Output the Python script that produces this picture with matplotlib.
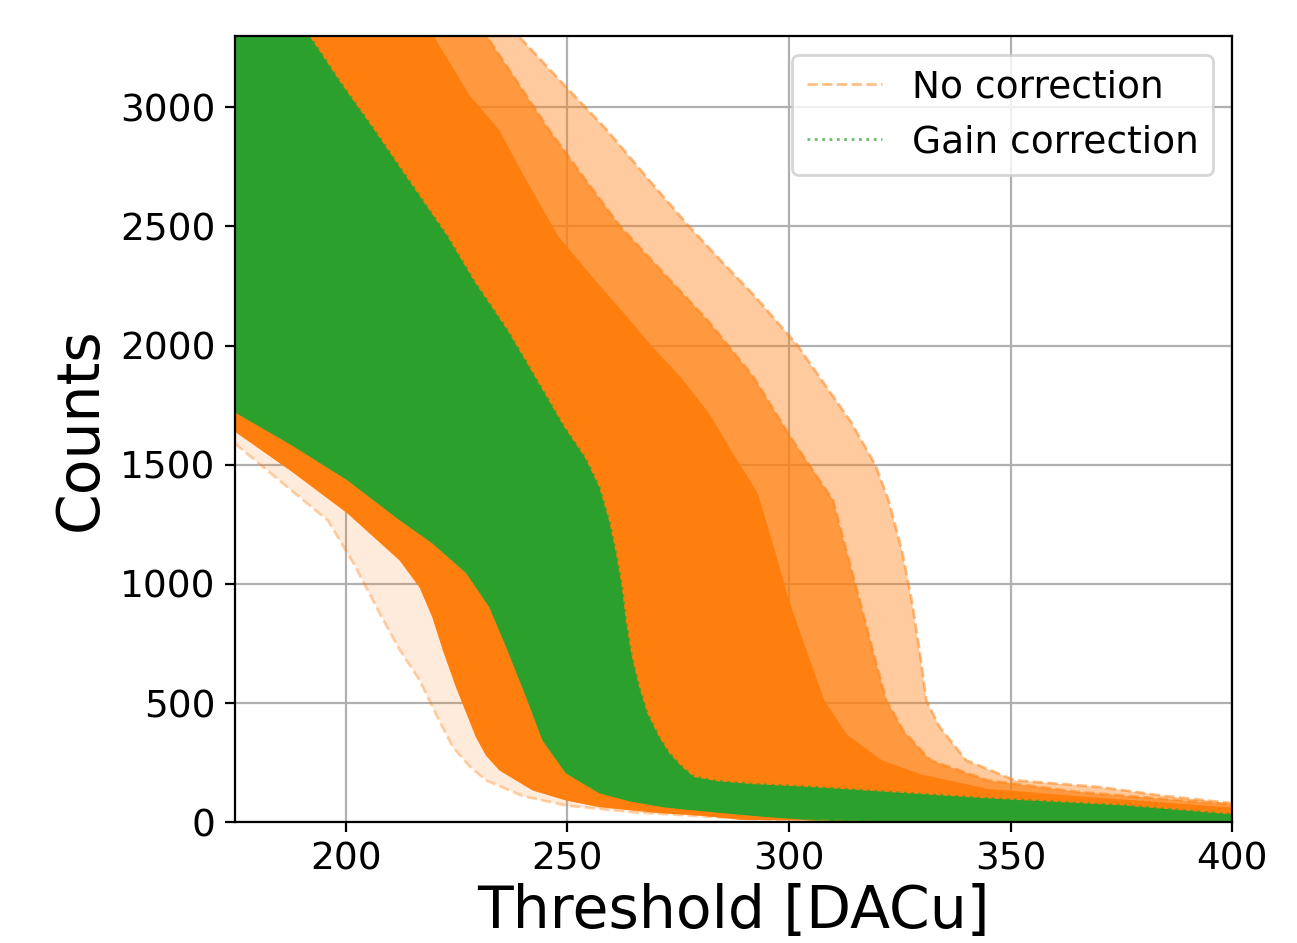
import numpy as np
import matplotlib
matplotlib.use("Agg")
import matplotlib.pyplot as plt

# threshold scan envelopes (x in DACu, y in counts)
# "No correction" (orange): outer sparse edge, streaky middle edge, solid edge
nc_faint_top_x = [175, 230, 239, 249, 259, 268.5, 277.5, 285, 292.5, 302, 308, 314, 319.5, 322.5, 325.5,
                  327.7, 329.5, 331, 334, 340, 351, 370, 385, 400]
nc_faint_top_y = [3600, 3600, 3300, 3100, 2904, 2694, 2500, 2350, 2204, 2000, 1840, 1680, 1500, 1351, 1140,
                  932, 720, 512, 400, 260, 176, 148, 110, 80]

nc_mid_top_x = [175, 226, 232, 239, 246, 254, 262, 272, 282, 292, 301, 310, 313, 316, 319, 322, 326,
                332, 345, 365, 400]
nc_mid_top_y = [3600, 3600, 3295, 3100, 2904, 2700, 2500, 2300, 2100, 1870, 1600, 1351, 1140, 932, 720, 512, 380,
                260, 176, 128, 75]

nc_dense_top_x = [175, 214, 220, 228, 234.7, 240, 248, 257, 264, 269, 276, 282, 287, 293, 297, 300, 304,
                  308, 313, 321, 330, 336, 345, 365, 400]
nc_dense_top_y = [3600, 3600, 3295, 3050, 2904, 2720, 2458, 2260, 2110, 2000, 1860, 1716, 1560, 1380, 1130, 932, 720,
                  512, 370, 260, 200, 176, 140, 110, 62]

nc_dense_low_x = [175, 188, 200.4, 212.2, 216.7, 219.6, 222, 224.9, 229.4, 231.7, 234.7, 242.2, 249.7,
                  257.2, 270, 280, 290, 400]
nc_dense_low_y = [1640, 1470, 1297, 1099, 986, 860, 720, 568, 358, 280, 218, 134, 92,
                  64, 40, 28, 10, 0]

nc_faint_low_x = [175, 186, 196, 202, 207.7, 212, 216.7, 220.5, 224.2, 228, 231.7, 240, 250, 265, 290, 320, 400]
nc_faint_low_y = [1590, 1420, 1267, 1080, 877, 730, 596, 450, 315, 235, 176, 110, 70, 42, 15, 0, 0]

# "Gain correction" (green)
gc_top_x = [175, 188, 192, 199, 206.5, 214, 223, 229, 236.5, 243, 249.3, 254, 257.2, 259.5, 261,
            262.3, 263.2, 264.5, 266.2, 268, 270.7, 273, 275.9, 278.6, 284, 292, 305, 345, 375, 400]
gc_top_y = [3600, 3600, 3295, 3100, 2904, 2700, 2458, 2270, 2065, 1860, 1659, 1530, 1407, 1260, 1128,
            990, 848, 700, 568, 460, 358, 290, 232, 190, 172, 160, 148, 100, 71, 33]

gc_low_x = [175, 188, 200.4, 212.2, 219.6, 227.2, 232.4, 236.2, 240.7, 244.4, 249.7, 257.2, 264, 272,
            284, 295, 305, 320, 400]
gc_low_y = [1720, 1580, 1435, 1267, 1170, 1045, 903, 736, 526, 344, 205, 122, 88, 62,
            40, 22, 8, 0, 0]

orange = "#ff7f0e"
green = "#2ca02c"


def band(ax, top_x, top_y, low_x, low_y, **kw):
    xs = np.concatenate([top_x, low_x[::-1]])
    ys = np.concatenate([top_y, low_y[::-1]])
    ax.fill(xs, ys, **kw)


fig = plt.figure(figsize=(12.97 / 2, 9.43 / 2), dpi=200)
ax = fig.add_axes([0.181, 0.128, 0.769, 0.834])
ax.set_axisbelow(True)

# no correction
band(ax, nc_faint_top_x, nc_faint_top_y, nc_dense_low_x, nc_dense_low_y,
     color=orange, alpha=0.4, lw=0)
band(ax, nc_dense_low_x, nc_dense_low_y, nc_faint_low_x, nc_faint_low_y,
     color=orange, alpha=0.15, lw=0)
band(ax, nc_mid_top_x, nc_mid_top_y, nc_dense_low_x, nc_dense_low_y,
     color=orange, alpha=0.65, lw=0)
band(ax, nc_dense_top_x, nc_dense_top_y, nc_dense_low_x, nc_dense_low_y,
     color=orange, alpha=1.0, lw=0)
l1, = ax.plot(nc_faint_top_x, nc_faint_top_y, "--", color=orange, alpha=0.5, lw=1.0,
              label="No correction")
ax.plot(nc_mid_top_x, nc_mid_top_y, "--", color=orange, alpha=0.5, lw=1.0)
ax.plot(nc_faint_low_x, nc_faint_low_y, "--", color=orange, alpha=0.35, lw=1.0)

# gain correction
band(ax, gc_top_x, gc_top_y, gc_low_x, gc_low_y, color=green, lw=0)
l2, = ax.plot(gc_top_x, gc_top_y, ":", color=green, alpha=0.7, lw=1.0,
              label="Gain correction")

ax.set_xlim(175, 400)
ax.set_ylim(0, 3300)
ax.set_xticks([200, 250, 300, 350, 400])
ax.set_yticks([0, 500, 1000, 1500, 2000, 2500, 3000])
ax.tick_params(labelsize=13.5)
ax.grid(True)
ax.set_xlabel("Threshold [DACu]", fontsize=21, labelpad=2)
ax.set_ylabel("Counts", fontsize=21)
ax.legend(handles=[l1, l2], loc="upper right", fontsize=13.5)

fig.savefig("out.png", dpi=200)
